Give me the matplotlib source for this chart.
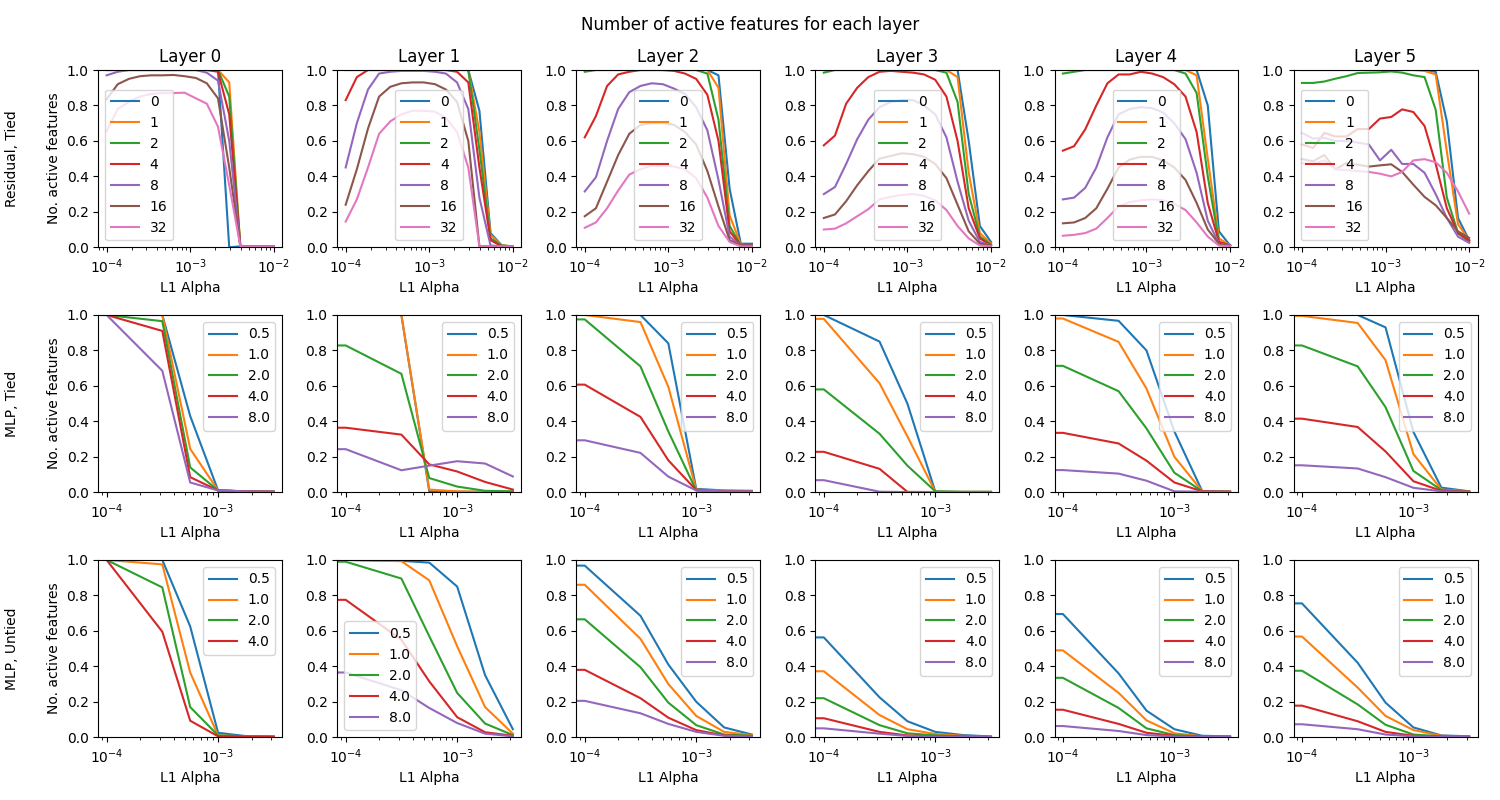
import numpy as np
import matplotlib.pyplot as plt

# L1 alphas used for the residual stream sweep
res_alphas = [1.0e-4, 1.36e-4, 1.85e-4, 2.51e-4, 3.41e-4, 4.64e-4, 6.31e-4, 8.58e-4,
              1.17e-3, 1.58e-3, 2.15e-3, 2.93e-3, 3.98e-3, 5.41e-3, 7.36e-3, 1.0e-2]
# L1 alphas used for the MLP sweeps (first run had no L1 penalty)
mlp_alphas = [0.0, 1.0e-4, 3.16e-4, 5.62e-4, 1.0e-3, 1.78e-3, 3.16e-3]

res_ratios = ["0", "1", "2", "4", "8", "16", "32"]
mlp_ratios = ["0.5", "1.0", "2.0", "4.0", "8.0"]

row_names = ["Residual, Tied", "MLP, Tied", "MLP, Untied"]

# fraction of active features, residual tied, one list per dict ratio
res_tied = [
    # layer 0
    [[1, 1, 1, 1, 1, 1, 1, 1, 1, 1, 1, 0.0, 0.005, 0.005, 0.005, 0.005],
     [1, 1, 1, 1, 1, 1, 1, 1, 1, 1, 1, 0.93, 0.005, 0.005, 0.005, 0.005],
     [1, 1, 1, 1, 1, 1, 1, 1, 1, 1, 1, 0.85, 0.005, 0.005, 0.005, 0.005],
     [1, 1, 1, 1, 1, 1, 1, 1, 1, 1, 0.99, 0.75, 0.005, 0.005, 0.005, 0.005],
     [0.97, 0.99, 1, 1, 1, 1, 1, 1, 1, 0.985, 0.94, 0.6, 0.005, 0.005, 0.005, 0.005],
     [0.835, 0.92, 0.95, 0.965, 0.97, 0.97, 0.972, 0.965, 0.955, 0.925, 0.84, 0.45, 0.005, 0.005, 0.005, 0.005],
     [0.656, 0.78, 0.82, 0.85, 0.865, 0.87, 0.87, 0.872, 0.84, 0.81, 0.68, 0.35, 0.005, 0.005, 0.005, 0.005]],
    # layer 1
    [[1, 1, 1, 1, 1, 1, 1, 1, 1, 1, 1, 1.0, 0.77, 0.08, 0.01, 0.005],
     [1, 1, 1, 1, 1, 1, 1, 1, 1, 1, 1, 1.0, 0.65, 0.07, 0.01, 0.005],
     [1, 1, 1, 1, 1, 1, 1, 1, 1, 1, 1, 1.0, 0.55, 0.05, 0.01, 0.005],
     [0.83, 0.96, 1, 1, 1, 1, 1, 1, 1, 1, 0.99, 0.93, 0.45, 0.04, 0.005, 0.005],
     [0.45, 0.7, 0.89, 0.98, 0.99, 0.995, 0.995, 0.995, 0.99, 0.98, 0.93, 0.78, 0.28, 0.01, 0.005, 0.005],
     [0.24, 0.44, 0.67, 0.85, 0.905, 0.925, 0.93, 0.93, 0.92, 0.89, 0.82, 0.6, 0.005, 0.005, 0.005, 0.005],
     [0.145, 0.27, 0.45, 0.64, 0.71, 0.75, 0.77, 0.77, 0.765, 0.73, 0.65, 0.45, 0.005, 0.005, 0.005, 0.005]],
    # layer 2
    [[1, 1, 1, 1, 1, 1, 1, 1, 1, 1, 1, 1.0, 0.97, 0.33, 0.02, 0.02],
     [1, 1, 1, 1, 1, 1, 1, 1, 1, 1, 1, 1.0, 0.9, 0.18, 0.015, 0.01],
     [0.99, 1, 1, 1, 1, 1, 1, 1, 1, 1, 1, 0.98, 0.72, 0.12, 0.01, 0.01],
     [0.62, 0.74, 0.91, 0.975, 0.99, 1, 1, 1, 0.995, 0.98, 0.95, 0.86, 0.6, 0.09, 0.01, 0.01],
     [0.315, 0.395, 0.6, 0.78, 0.875, 0.91, 0.925, 0.92, 0.895, 0.865, 0.79, 0.66, 0.38, 0.06, 0.01, 0.01],
     [0.175, 0.22, 0.37, 0.52, 0.64, 0.69, 0.7, 0.7, 0.69, 0.65, 0.58, 0.43, 0.23, 0.04, 0.01, 0.01],
     [0.11, 0.14, 0.22, 0.32, 0.41, 0.44, 0.46, 0.46, 0.455, 0.44, 0.39, 0.28, 0.12, 0.03, 0.005, 0.005]],
    # layer 3
    [[1, 1, 1, 1, 1, 1, 1, 1, 1, 1, 1, 1, 1.0, 0.6, 0.12, 0.03],
     [1, 1, 1, 1, 1, 1, 1, 1, 1, 1, 1, 1.0, 0.96, 0.42, 0.08, 0.02],
     [0.985, 1, 1, 1, 1, 1, 1, 1, 1, 1, 1, 0.985, 0.82, 0.3, 0.06, 0.015],
     [0.575, 0.63, 0.81, 0.9, 0.96, 0.99, 0.995, 0.99, 0.985, 0.975, 0.945, 0.85, 0.6, 0.22, 0.05, 0.01],
     [0.3, 0.34, 0.47, 0.61, 0.72, 0.79, 0.82, 0.83, 0.83, 0.8, 0.75, 0.62, 0.37, 0.15, 0.03, 0.01],
     [0.165, 0.185, 0.26, 0.35, 0.43, 0.5, 0.515, 0.53, 0.525, 0.51, 0.47, 0.39, 0.24, 0.09, 0.02, 0.01],
     [0.1, 0.105, 0.135, 0.175, 0.215, 0.27, 0.285, 0.295, 0.3, 0.29, 0.265, 0.21, 0.12, 0.05, 0.01, 0.005]],
    # layer 4
    [[1, 1, 1, 1, 1, 1, 1, 1, 1, 1, 1, 1, 1.0, 0.8, 0.09, 0.01],
     [1, 1, 1, 1, 1, 1, 1, 1, 1, 1, 1, 1.0, 0.97, 0.5, 0.05, 0.01],
     [0.98, 0.99, 1, 1, 1, 1, 1, 1, 1, 1, 1, 0.98, 0.87, 0.4, 0.03, 0.01],
     [0.545, 0.57, 0.665, 0.8, 0.925, 0.975, 0.975, 0.99, 0.98, 0.96, 0.92, 0.85, 0.65, 0.25, 0.03, 0.01],
     [0.27, 0.28, 0.335, 0.45, 0.62, 0.75, 0.78, 0.79, 0.785, 0.76, 0.7, 0.61, 0.42, 0.15, 0.02, 0.01],
     [0.135, 0.14, 0.165, 0.22, 0.33, 0.45, 0.495, 0.51, 0.51, 0.49, 0.45, 0.38, 0.25, 0.1, 0.02, 0.005],
     [0.065, 0.07, 0.08, 0.105, 0.165, 0.23, 0.255, 0.265, 0.27, 0.265, 0.245, 0.21, 0.14, 0.06, 0.01, 0.005]],
    # layer 5
    [[1, 1, 1, 1, 1, 1, 1, 1, 1, 1, 1, 1, 0.99, 0.71, 0.165, 0.04],
     [1, 1, 1, 1, 1, 1, 1, 1, 1, 1, 1, 0.995, 0.975, 0.54, 0.13, 0.04],
     [0.927, 0.927, 0.935, 0.951, 0.965, 0.983, 0.985, 0.987, 0.992, 0.985, 0.97, 0.96, 0.776, 0.28, 0.08, 0.03],
     [0.58, 0.56, 0.645, 0.625, 0.625, 0.667, 0.667, 0.726, 0.735, 0.778, 0.763, 0.684, 0.47, 0.22, 0.08, 0.04],
     [0.645, 0.613, 0.617, 0.6, 0.6, 0.59, 0.58, 0.49, 0.55, 0.47, 0.47, 0.42, 0.3, 0.165, 0.06, 0.025],
     [0.498, 0.485, 0.52, 0.44, 0.475, 0.466, 0.455, 0.462, 0.468, 0.425, 0.353, 0.284, 0.237, 0.165, 0.09, 0.053],
     [0.475, 0.47, 0.49, 0.44, 0.435, 0.43, 0.425, 0.415, 0.4, 0.425, 0.49, 0.497, 0.48, 0.42, 0.315, 0.19]],
]

mlp_tied = [
    # layer 0
    [[1, 1, 1, 0.43, 0.01, 0.005, 0.003],
     [1, 1, 1, 0.245, 0.01, 0.005, 0.003],
     [1, 1, 0.965, 0.14, 0.01, 0.005, 0.003],
     [1, 1, 0.91, 0.085, 0.01, 0.005, 0.003],
     [1, 1, 0.685, 0.055, 0.01, 0.005, 0.003]],
    # layer 1
    [[1, 1, 1, 0.005, 0.003, 0.002, 0.002],
     [1, 1, 1, 0.015, 0.005, 0.003, 0.002],
     [0.83, 0.828, 0.668, 0.08, 0.032, 0.008, 0.005],
     [0.365, 0.364, 0.325, 0.157, 0.117, 0.058, 0.015],
     [0.243, 0.243, 0.124, 0.15, 0.175, 0.162, 0.089]],
    # layer 2
    [[1, 1, 1, 0.84, 0.019, 0.01, 0.008],
     [1, 1, 0.96, 0.595, 0.015, 0.008, 0.005],
     [0.975, 0.975, 0.71, 0.343, 0.01, 0.006, 0.005],
     [0.607, 0.607, 0.425, 0.18, 0.012, 0.005, 0.005],
     [0.295, 0.293, 0.222, 0.088, 0.01, 0.005, 0.005]],
    # layer 3
    [[1, 1, 0.85, 0.5, 0.003, 0.002, 0.002],
     [0.978, 0.978, 0.615, 0.315, 0.003, 0.002, 0.002],
     [0.58, 0.58, 0.33, 0.15, 0.005, 0.002, 0.002],
     [0.23, 0.228, 0.132, 0.002, 0.001, 0.001, 0.001],
     [0.068, 0.068, 0.003, 0.001, 0.001, 0.001, 0.001]],
    # layer 4
    [[1, 1, 0.967, 0.8, 0.343, 0.005, 0.003],
     [0.98, 0.98, 0.848, 0.585, 0.2, 0.005, 0.003],
     [0.713, 0.713, 0.57, 0.36, 0.11, 0.005, 0.003],
     [0.335, 0.335, 0.275, 0.178, 0.055, 0.005, 0.003],
     [0.125, 0.125, 0.105, 0.065, 0.005, 0.003, 0.002]],
    # layer 5
    [[1, 1, 1, 0.93, 0.34, 0.026, 0.005],
     [1, 0.995, 0.955, 0.745, 0.215, 0.015, 0.005],
     [0.828, 0.828, 0.71, 0.48, 0.12, 0.012, 0.004],
     [0.415, 0.415, 0.368, 0.23, 0.062, 0.008, 0.003],
     [0.155, 0.152, 0.134, 0.085, 0.025, 0.005, 0.002]],
]

mlp_untied = [
    # layer 0 (no 8.0 run)
    [[1, 1, 1, 0.625, 0.025, 0.006, 0.003],
     [1, 1, 0.975, 0.365, 0.01, 0.005, 0.003],
     [1, 1, 0.845, 0.17, 0.01, 0.005, 0.003],
     [1, 1, 0.595, 0.093, 0.005, 0.003, 0.003]],
    # layer 1
    [[1, 1, 0.995, 0.985, 0.85, 0.35, 0.045],
     [1, 1, 0.993, 0.885, 0.513, 0.17, 0.02],
     [0.99, 0.99, 0.895, 0.57, 0.25, 0.077, 0.012],
     [0.775, 0.775, 0.55, 0.315, 0.113, 0.028, 0.008],
     [0.365, 0.365, 0.265, 0.165, 0.08, 0.02, 0.005]],
    # layer 2
    [[0.968, 0.968, 0.685, 0.41, 0.2, 0.055, 0.015],
     [0.86, 0.86, 0.555, 0.3, 0.12, 0.03, 0.012],
     [0.665, 0.665, 0.395, 0.195, 0.068, 0.015, 0.008],
     [0.38, 0.38, 0.22, 0.11, 0.04, 0.01, 0.005],
     [0.205, 0.205, 0.135, 0.075, 0.03, 0.008, 0.004]],
    # layer 3
    [[0.563, 0.563, 0.225, 0.09, 0.03, 0.012, 0.004],
     [0.372, 0.372, 0.125, 0.045, 0.018, 0.008, 0.003],
     [0.22, 0.22, 0.068, 0.022, 0.01, 0.005, 0.002],
     [0.107, 0.107, 0.03, 0.01, 0.005, 0.003, 0.002],
     [0.052, 0.05, 0.02, 0.007, 0.003, 0.002, 0.001]],
    # layer 4
    [[0.695, 0.695, 0.36, 0.15, 0.045, 0.008, 0.005],
     [0.49, 0.49, 0.25, 0.095, 0.022, 0.005, 0.003],
     [0.335, 0.335, 0.165, 0.05, 0.012, 0.004, 0.002],
     [0.155, 0.155, 0.075, 0.025, 0.008, 0.003, 0.002],
     [0.065, 0.063, 0.035, 0.012, 0.004, 0.002, 0.001]],
    # layer 5
    [[0.755, 0.755, 0.42, 0.195, 0.055, 0.01, 0.005],
     [0.568, 0.568, 0.28, 0.12, 0.04, 0.008, 0.004],
     [0.375, 0.375, 0.185, 0.07, 0.015, 0.005, 0.003],
     [0.178, 0.178, 0.09, 0.03, 0.008, 0.003, 0.002],
     [0.075, 0.073, 0.045, 0.015, 0.005, 0.002, 0.001]],
]

res_legend_loc = ["lower left", "lower center", "lower center",
                  "lower center", "lower center", "lower left"]
untied_legend_loc = ["upper right", "lower left", "upper right",
                     "upper right", "upper right", "upper right"]

if __name__ == "__main__":
    fig, axes = plt.subplots(3, 6, figsize=(15, 8))
    fig.subplots_adjust(left=0.0655, right=0.985, top=0.9125, bottom=0.0785,
                        wspace=0.3, hspace=0.382)

    rows = [(res_alphas, res_tied, res_ratios, res_legend_loc),
            (mlp_alphas, mlp_tied, mlp_ratios, ["upper right"] * 6),
            (mlp_alphas, mlp_untied, mlp_ratios, untied_legend_loc)]

    for r, (alphas, data, ratios, locs) in enumerate(rows):
        for layer in range(6):
            ax = axes[r, layer]
            for k, vals in enumerate(data[layer]):
                ax.plot(alphas, vals, label=ratios[k])
            ax.set_xscale("log")
            ax.set_ylim(0, 1)
            ax.set_xlabel("L1 Alpha")
            ax.legend(loc=locs[layer])
            if r == 0:
                ax.set_title(f"Layer {layer}")
            if layer == 0:
                ax.set_ylabel("No. active features")

    row_centers = [1 - 158.5 / 800, 1 - 403.5 / 800, 1 - 649 / 800]
    for name, yc in zip(row_names, row_centers):
        fig.text(0.008, yc, name, rotation=90, ha="center", va="center")

    fig.suptitle("Number of active features for each layer")
    plt.savefig("out.png", dpi=100)
